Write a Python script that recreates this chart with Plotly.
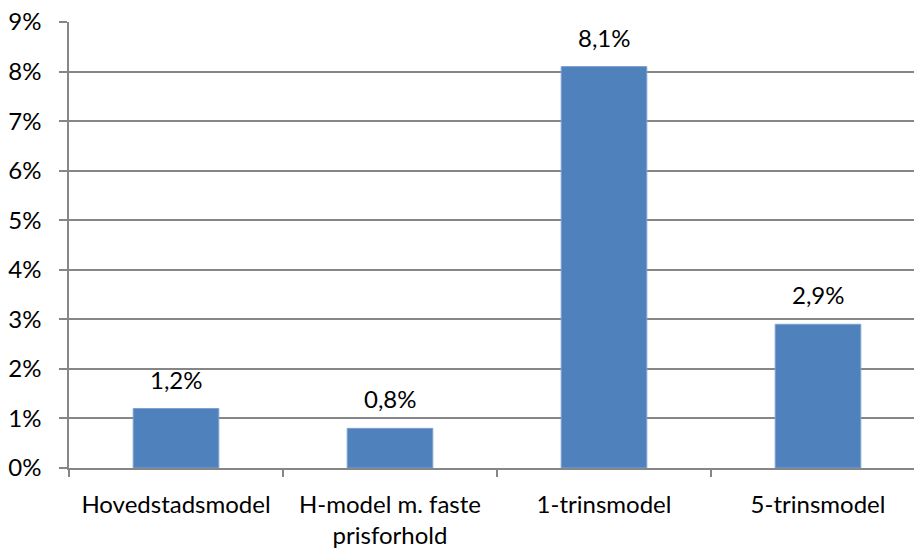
import plotly.graph_objects as go

# Model categories and their values (as fractions)
categories = ["Hovedstadsmodel", "H-model m. faste<br>prisforhold", "1-trinsmodel", "5-trinsmodel"]
values = [0.012, 0.008, 0.081, 0.029]
y_ticks = [0, 0.01, 0.02, 0.03, 0.04, 0.05, 0.06, 0.07, 0.08, 0.09]

FONT = "Lato"
GREY = "#868686"
SIZE = 24

fig = go.Figure(
    go.Bar(
        x=categories,
        y=values,
        width=0.4,
        marker=dict(color="#4F81BD", line=dict(color="#7DA1D0", width=1)),
        hoverinfo="skip",
    )
)

# Value labels above each bar
for c, v in zip(categories, values):
    fig.add_annotation(
        x=c, y=v, text=f"{v * 100:.1f}%".replace(".", ","),
        showarrow=False, yanchor="bottom", yshift=13,
        font=dict(family=FONT, size=SIZE, color="#000000"),
    )

fig.update_layout(
    width=914, height=549,
    margin=dict(l=69, r=0, t=21.5, b=80.5),
    paper_bgcolor="white", plot_bgcolor="white",
    separators=", ",
    showlegend=False,
    font=dict(family=FONT, size=SIZE, color="#000000"),
)
fig.update_xaxes(
    type="category",
    range=[-0.5, 3.4486],
    showline=True, linecolor=GREY, linewidth=1.5,
    ticks="outside", tickson="boundaries", ticklen=7, tickcolor=GREY, tickwidth=1.5,
    showgrid=False,
    ticklabelstandoff=14,
    tickfont=dict(family=FONT, size=SIZE, color="#000000"),
)
fig.update_yaxes(
    range=[0, 0.09],
    tickvals=y_ticks, tickformat=".0%",
    showline=True, linecolor=GREY, linewidth=1.5,
    ticks="outside", ticklen=8, tickcolor=GREY, tickwidth=1.5,
    showgrid=True, gridcolor=GREY, gridwidth=1.5,
    zeroline=False,
    ticklabelstandoff=13,
    tickfont=dict(family=FONT, size=SIZE, color="#000000"),
)

fig.write_html("out.html")
